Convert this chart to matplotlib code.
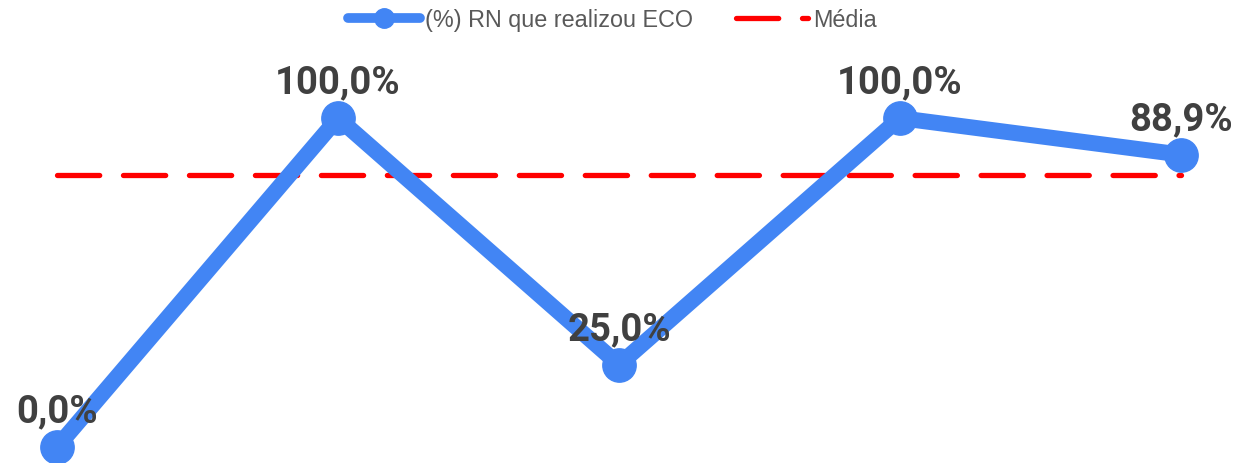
import matplotlib.pyplot as plt

# Dados: percentual de RN que realizaram ECO por período
categorias = ["P1", "P2", "P3", "P4", "P5"]
valores = [0.0, 100.0, 25.0, 100.0, 88.9]
media = 82.7  # média apresentada como linha de referência

azul = "#4285F4"
vermelho = "#FF0000"

fig = plt.figure(figsize=(12.43, 4.64), dpi=100)
ax = fig.add_axes([0, 0, 1, 1])

x = list(range(len(categorias)))
ax.plot(x, valores, color=azul, linewidth=11.5, marker="o", markersize=24,
        solid_capstyle="round", solid_joinstyle="round",
        label="(%) RN que realizou ECO", zorder=3)
ax.plot([x[0], x[-1]], [media, media], color=vermelho, linewidth=3.8,
        dashes=(8.0, 4.5), dash_capstyle="round", label="Média", zorder=2)

# rótulos de valor acima de cada ponto
for xi, v in zip(x, valores):
    ax.annotate(f"{v:.1f}%".replace(".", ","), (xi, v), xytext=(0, 26),
                textcoords="offset points", ha="center", va="center",
                fontsize=27.5, fontweight="bold", color="#404040",
                family="Roboto", zorder=4)

ax.set_xlim(-0.203, 4.221)
ax.set_ylim(-4.86, 136.2)
ax.axis("off")

leg = ax.legend(loc="upper center", bbox_to_anchor=(0.4925, 1.0), ncol=2,
                frameon=False, handlelength=3.1,
                columnspacing=1.85, handletextpad=0.2, borderaxespad=0.0,
                prop={"family": "Liberation Sans", "size": 16.8})
for t in leg.get_texts():
    t.set_color("#595959")
leg.legend_handles[0].set_markersize(14)
leg.legend_handles[0].set_linewidth(7)

fig.savefig("out.png", dpi=100)
